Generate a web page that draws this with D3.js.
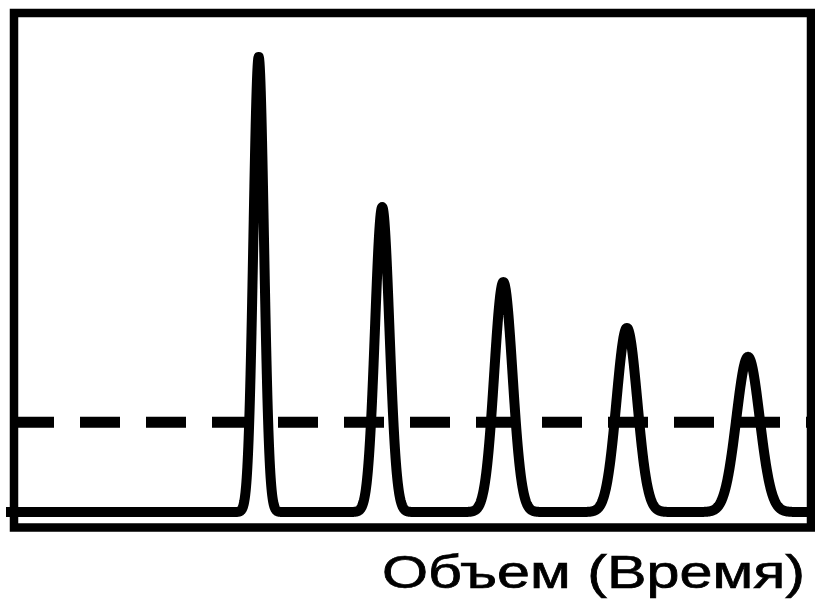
<!DOCTYPE html>
<html>
<head>
<meta charset="utf-8">
<script src="https://cdnjs.cloudflare.com/ajax/libs/d3/7.8.5/d3.min.js"></script>
<style>
    body { margin: 0; background: #fff; }
    svg { display: block; }
</style>
</head>
<body>
<svg id="chart" width="815" height="606"></svg>
<script>
// peaks (time units 0..10, signal units 0..100)
var peakTimes   = [3.07, 4.62, 6.14, 7.69, 9.21];
var peakHeights = [91.2, 61.1, 46.1, 36.9, 31.1];
var peakWidths  = [0.066, 0.09, 0.114, 0.13, 0.146];
var threshold = 18.0;
var axisLabel = "Объем (Время)";

var svg = d3.select("#chart");

var x = d3.scaleLinear().domain([0, 10]).range([14, 811]);
var y = d3.scaleLinear().domain([0, 100]).range([512, 13]);

// detector signal: sum of the peaks over the time axis
function signal(t) {
    var s = 0;
    for (var i = 0; i < peakTimes.length; i++) {
        var d = (t - peakTimes[i]) / peakWidths[i];
        s += peakHeights[i] * Math.exp(-0.5 * d * d);
    }
    return s;
}
var ts = d3.range(-0.1, 10.0005, 0.004);

var line = d3.line()
    .x(function(t){ return x(t); })
    .y(function(t){ return y(signal(t)); });

// threshold (dashed)
svg.append("line")
    .attr("x1", x(0)).attr("x2", x(10))
    .attr("y1", y(threshold)).attr("y2", y(threshold))
    .attr("stroke", "#000")
    .attr("stroke-width", 11)
    .attr("stroke-dasharray", "40,26");

svg.append("path")
    .datum(ts)
    .attr("d", line)
    .attr("fill", "none")
    .attr("stroke", "#000")
    .attr("stroke-width", 10)
    .attr("stroke-linejoin", "round")
    .attr("stroke-linecap", "butt");

// frame
svg.append("rect")
    .attr("x", x(0)).attr("y", 13)
    .attr("width", x(10) - x(0)).attr("height", 527.5 - 13)
    .attr("fill", "none")
    .attr("stroke", "#000")
    .attr("stroke-width", 8.5);

svg.append("text")
    .attr("x", 382).attr("y", 588)
    .attr("textLength", 423)
    .attr("lengthAdjust", "spacingAndGlyphs")
    .attr("font-family", "'Liberation Sans', Arial, sans-serif")
    .attr("font-size", 46)
    .attr("fill", "#000")
    .attr("stroke", "#000")
    .attr("stroke-width", 0.7)
    .text(axisLabel);
</script>
</body>
</html>
